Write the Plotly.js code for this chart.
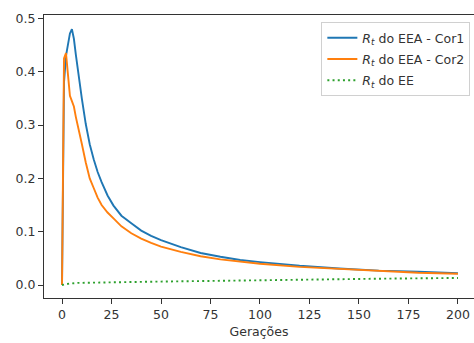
<!DOCTYPE html>
<html>
<head>
<meta charset="utf-8">
<script src="https://cdn.plot.ly/plotly-3.0.1.min.js"></script>
<style>html,body{margin:0;padding:0;background:#fff;}#chart{width:474px;height:343px;}</style>
</head>
<body>
<div id="chart"></div>
<script>
const geracoes = [0,1,2,3,4,5,6,7,8,10,12,14,16,18,20,23,26,30,35,40,45,50,60,70,80,90,100,120,140,160,180,200];
const rtCor1 = [0,0.38,0.43,0.452,0.472,0.48,0.462,0.432,0.402,0.35,0.302,0.264,0.236,0.212,0.193,0.168,0.149,0.130,0.116,0.102,0.092,0.084,0.071,0.060,0.053,0.047,0.043,0.036,0.031,0.027,0.025,0.022];
const rtCor2 = [0,0.425,0.435,0.40,0.355,0.345,0.335,0.315,0.300,0.265,0.230,0.200,0.182,0.164,0.150,0.136,0.125,0.110,0.097,0.087,0.079,0.072,0.062,0.054,0.048,0.044,0.040,0.034,0.030,0.026,0.023,0.021];
const rtEE = [0,0.001,0.002,0.0025,0.003,0.003,0.0035,0.0035,0.004,0.004,0.0042,0.0045,0.0047,0.005,0.005,0.0052,0.0054,0.0056,0.0058,0.006,0.0062,0.0064,0.007,0.0075,0.008,0.0085,0.009,0.010,0.011,0.0118,0.0125,0.0132];
const nomes = ['<i>R<sub>t</sub></i> do EEA - Cor1','<i>R<sub>t</sub></i> do EEA - Cor2','<i>R<sub>t</sub></i> do EE'];
const xTicks = [0,25,50,75,100,125,150,175,200];
const yTicks = [0,0.1,0.2,0.3,0.4,0.5];

const font = {family:'DejaVu Sans', size:12.5, color:'#333'};
const data = [
  {x:geracoes, y:rtCor1, name:nomes[0], legendgroup:'a', mode:'lines', line:{color:'#1f77b4', width:1.9}},
  {x:geracoes, y:rtCor2, name:nomes[1], legendgroup:'b', mode:'lines', line:{color:'#ff7f0e', width:1.9}},
  {x:geracoes, y:rtEE, name:nomes[2], legendgroup:'c', mode:'lines', line:{color:'#2ca02c', width:1.9, dash:'2px,3.2px'}}
];
const layout = {
  width:474, height:343,
  margin:{l:44, r:0, t:15, b:45},
  paper_bgcolor:'#fff', plot_bgcolor:'#fff',
  font:font,
  showlegend:true,
  legend:{x:0.645, y:0.975, xanchor:'left', yanchor:'top', bgcolor:'rgba(255,255,255,0.8)', bordercolor:'#d0d0d0', borderwidth:1, font:{family:'DejaVu Sans', size:12.5, color:'#333'}, traceorder:'grouped', tracegroupgap:2, itemwidth:30},
  xaxis:{range:[-9.1,208.1], tickvals:xTicks, ticktext:xTicks.map(String), showgrid:false, zeroline:false, showline:true, linecolor:'#333', linewidth:1, mirror:true, ticks:'outside', ticklen:5, tickcolor:'#333', title:{text:'Gerações', font:font, standoff:6}},
  yaxis:{range:[-0.0244,0.5066], tickvals:yTicks, ticktext:yTicks.map(v=>v.toFixed(1)), showgrid:false, zeroline:false, showline:true, linecolor:'#333', linewidth:1, ticks:'outside', ticklen:5, tickcolor:'#333'}
};
Plotly.newPlot('chart', data, layout, {displayModeBar:false, staticPlot:true});
</script>
</body>
</html>
